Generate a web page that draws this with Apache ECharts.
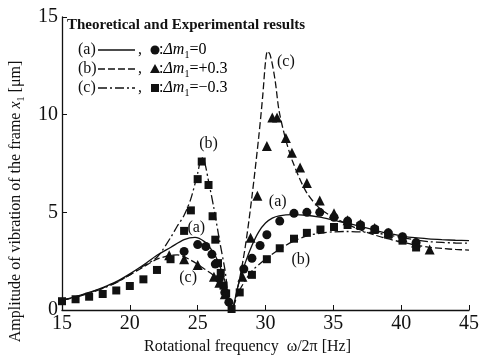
<!DOCTYPE html>
<html>
<head>
<meta charset="utf-8">
<script src="https://cdn.jsdelivr.net/npm/echarts@6/dist/echarts.min.js"></script>
<style>
  html, body { margin: 0; padding: 0; background: #fff; }
  #chart { width: 482px; height: 360px; }
</style>
</head>
<body>
<div id="chart"></div>
<script>
// theoretical curve (a), dm1 = 0  (solid)
var freqA = [15,16,17,18,19,20,21,22,23,24,24.8,25.5,26,26.5,27,27.2,27.5,28,28.5,29,29.5,30,30.5,31,32,33,34,35,36,37,38,39,40,41,42,43,44,45];
var ampA  = [0.5,0.68,0.9,1.15,1.45,1.85,2.3,2.8,3.2,3.6,3.72,3.5,3.1,2.5,1.5,0.95,0,1.3,2.4,3.3,4.0,4.45,4.7,4.82,4.88,4.85,4.75,4.6,4.45,4.28,4.1,3.93,3.8,3.7,3.64,3.6,3.57,3.55];

// theoretical curve, dm1 = +0.3 (dashed)
var freqB = [15,16,17,18,19,20,21,22,23,23.5,24.5,25.5,26.3,26.8,27.2,27.5,28,28.5,29,29.5,29.8,30,30.15,30.35,30.7,31,31.5,32,33,34,35,36,37,38,39,40,41,42,43,44,45];
var ampB  = [0.5,0.67,0.88,1.12,1.42,1.8,2.2,2.6,2.8,2.82,2.55,2.1,1.7,1.15,0.6,0,1.3,3.2,5.8,8.85,11.0,12.7,13.25,13.05,11.8,10.2,8.7,7.6,6.05,5.2,4.75,4.4,4.1,3.85,3.65,3.48,3.33,3.22,3.15,3.1,3.07];

// theoretical curve, dm1 = -0.3 (dash-dot)
var freqC = [15,16,17,18,19,20,21,22,23,23.5,24,24.5,25,25.3,25.5,25.8,26.2,26.6,27,27.5,28,28.5,29,30,31,32,33,34,35,36,37,38,39,40,41,42,43,44,45];
var ampC  = [0.5,0.65,0.85,1.1,1.4,1.8,2.25,2.7,3.7,4.3,4.85,5.7,7.0,7.8,7.6,6.6,5.2,3.6,2.1,0,0.9,1.5,2.0,2.6,3.1,3.5,3.78,3.93,4.0,4.02,4.0,3.95,3.85,3.72,3.6,3.5,3.46,3.43,3.42];

// experimental points
var circFreq = [24,25,25.6,26.05,26.3,26.6,27,27.3,28.4,29,29.6,30.1,31.05,32.1,33.05,34,35.05,36.05,37,38.05,39.05,40.1,41.1];
var circAmp  = [3.0,3.35,3.25,2.85,2.35,1.6,0.9,0.4,2.1,2.65,3.3,3.85,4.55,4.95,5.0,5.0,4.75,4.55,4.35,4.15,3.95,3.75,3.45];

var triFreq = [22.9,24,25,26.2,26.6,27,28.3,28.9,29.4,30.1,30.5,30.85,31.5,31.95,32.55,33.05,34,35.05,36.05,37,38.05,39.05,40.1,41.1,42.1];
var triAmp  = [2.8,2.6,2.3,1.7,1.4,0.8,1.7,3.7,5.85,8.4,9.85,9.85,8.8,8.05,7.3,6.5,5.6,4.95,4.6,4.4,4.2,3.95,3.72,3.45,3.1];

var sqFreq = [15,16,17,18,19,20,21,22,23,24,24.5,25,25.3,25.8,26.1,26.3,26.5,26.7,26.9,27.1,27.5,28.1,29,30.1,31.05,32.1,33.05,34.05,35.05,36.05,37,38.05,39.05,40.1,41.1];
var sqAmp  = [0.45,0.55,0.68,0.82,1.0,1.23,1.57,2.05,2.6,4.05,5.1,6.7,7.6,6.4,4.8,3.6,2.4,1.9,1.25,0.85,0.05,0.9,1.8,2.6,3.16,3.65,3.95,4.12,4.25,4.35,4.3,4.1,3.85,3.55,3.2];

// curve labels inside the plot
var noteFreq = [25.8,24.9,24.3,31.5,30.9,32.6];
var noteAmp  = [8.5,4.2,1.65,12.7,5.55,2.56];
var noteText = ['(b)','(a)','(c)','(c)','(a)','(b)'];

// legend rows
var legendTags = ['(a)','(b)','(c)'];
var legendDm   = ['0','+0.3','\u22120.3'];

var serif = '"Liberation Serif", "DejaVu Serif", serif';
var ink = '#111';

function zip(xs, ys) {
  return xs.map(function (x, i) { return [x, ys[i]]; });
}

var richSub = {
  n: { fontFamily: serif, fontSize: 16, color: ink, lineHeight: 20, verticalAlign: 'middle' },
  i: { fontFamily: serif, fontSize: 16, color: ink, fontStyle: 'italic', lineHeight: 20, verticalAlign: 'middle' },
  s: { fontFamily: serif, fontSize: 10, color: ink, lineHeight: 12, verticalAlign: 'bottom' }
};

var chart = echarts.init(document.getElementById('chart'), null, { renderer: 'canvas' });

// legend drawn as graphics
var graphics = [{
  type: 'text', x: 67, y: 25,
  style: { text: 'Theoretical and Experimental results', fontFamily: serif, fontSize: 15, fontWeight: 'bold', fill: ink, verticalAlign: 'middle' }
}];
var dashes = [null, [7, 3], [9, 3, 2, 3]];
legendTags.forEach(function (tag, k) {
  var y = 50 + 19 * k;
  graphics.push({ type: 'text', x: 78, y: y, style: { text: tag, fontFamily: serif, fontSize: 16, fill: ink, verticalAlign: 'middle' } });
  graphics.push({ type: 'line', shape: { x1: 98, y1: y, x2: 135, y2: y }, style: { stroke: ink, lineWidth: 1.3, lineDash: dashes[k] } });
  graphics.push({ type: 'text', x: 138, y: y, style: { text: ',', fontFamily: serif, fontSize: 16, fill: ink, verticalAlign: 'middle' } });
  if (k === 0) graphics.push({ type: 'circle', shape: { cx: 155, cy: y, r: 4.5 }, style: { fill: ink } });
  if (k === 1) graphics.push({ type: 'polygon', shape: { points: [[155, y - 5], [150, y + 4], [160, y + 4]] }, style: { fill: ink } });
  if (k === 2) graphics.push({ type: 'rect', shape: { x: 151, y: y - 4, width: 8, height: 8 }, style: { fill: ink } });
  graphics.push({
    type: 'text', x: 159, y: y,
    style: { text: '{n|:}{i|\u0394m}{s|1}{n|=' + legendDm[k] + '}', rich: richSub, verticalAlign: 'middle' }
  });
});

var option = {
  animation: false,
  backgroundColor: '#fff',
  grid: { left: 52, right: 10, top: 17, bottom: 50 },
  xAxis: {
    type: 'value', min: 15, max: 45, interval: 5,
    name: 'Rotational frequency  \u03c9/2\u03c0 [Hz]',
    nameLocation: 'middle', nameGap: 23,
    nameTextStyle: { fontFamily: serif, fontSize: 16, color: ink, padding: [0, 36, 0, 0] },
    axisLine: { lineStyle: { color: ink, width: 1.3 } },
    axisTick: { inside: true, length: 5, lineStyle: { color: ink } },
    axisLabel: { fontFamily: serif, fontSize: 20, color: ink, margin: 4 },
    splitLine: { show: false }
  },
  yAxis: {
    type: 'value', min: 0, max: 15, interval: 5,
    name: '{n|Amplitude of vibration of the frame }{i|x}{s|1}{n| [\u03bcm]}',
    nameLocation: 'middle', nameGap: 36,
    nameTextStyle: { fontFamily: serif, fontSize: 16, color: ink, padding: [0, 76, 0, 0], rich: richSub },
    axisLine: { show: true, lineStyle: { color: ink, width: 1.3 } },
    axisTick: { show: true, inside: true, length: 5, lineStyle: { color: ink } },
    axisLabel: { fontFamily: serif, fontSize: 20, color: ink, margin: 4 },
    splitLine: { show: false }
  },
  graphic: graphics,
  series: [
    { type: 'line', data: zip(freqA, ampA), showSymbol: false, smooth: 0.3, lineStyle: { color: ink, width: 1.3 } },
    { type: 'line', data: zip(freqB, ampB), showSymbol: false, smooth: 0.3, lineStyle: { color: ink, width: 1.3, type: [7, 3] } },
    { type: 'line', data: zip(freqC, ampC), showSymbol: false, smooth: 0.3, lineStyle: { color: ink, width: 1.3, type: [9, 3, 2, 3] } },
    { type: 'scatter', data: zip(circFreq, circAmp), symbol: 'circle', symbolSize: 9, itemStyle: { color: ink, opacity: 1 } },
    { type: 'scatter', data: zip(triFreq, triAmp), symbol: 'triangle', symbolSize: 10, itemStyle: { color: ink, opacity: 1 } },
    { type: 'scatter', data: zip(sqFreq, sqAmp), symbol: 'rect', symbolSize: 8, itemStyle: { color: ink, opacity: 1 } },
    {
      type: 'scatter', silent: true, symbolSize: 0, itemStyle: { color: ink, opacity: 1 },
      data: noteFreq.map(function (x, i) { return { value: [x, noteAmp[i]], name: noteText[i] }; }),
      label: {
        show: true, position: 'inside', formatter: '{b}', fontFamily: serif, fontSize: 16,
        color: ink, opacity: 1, textBorderWidth: 0, textBorderColor: 'transparent'
      }
    }
  ]
};

chart.setOption(option);
</script>
</body>
</html>
